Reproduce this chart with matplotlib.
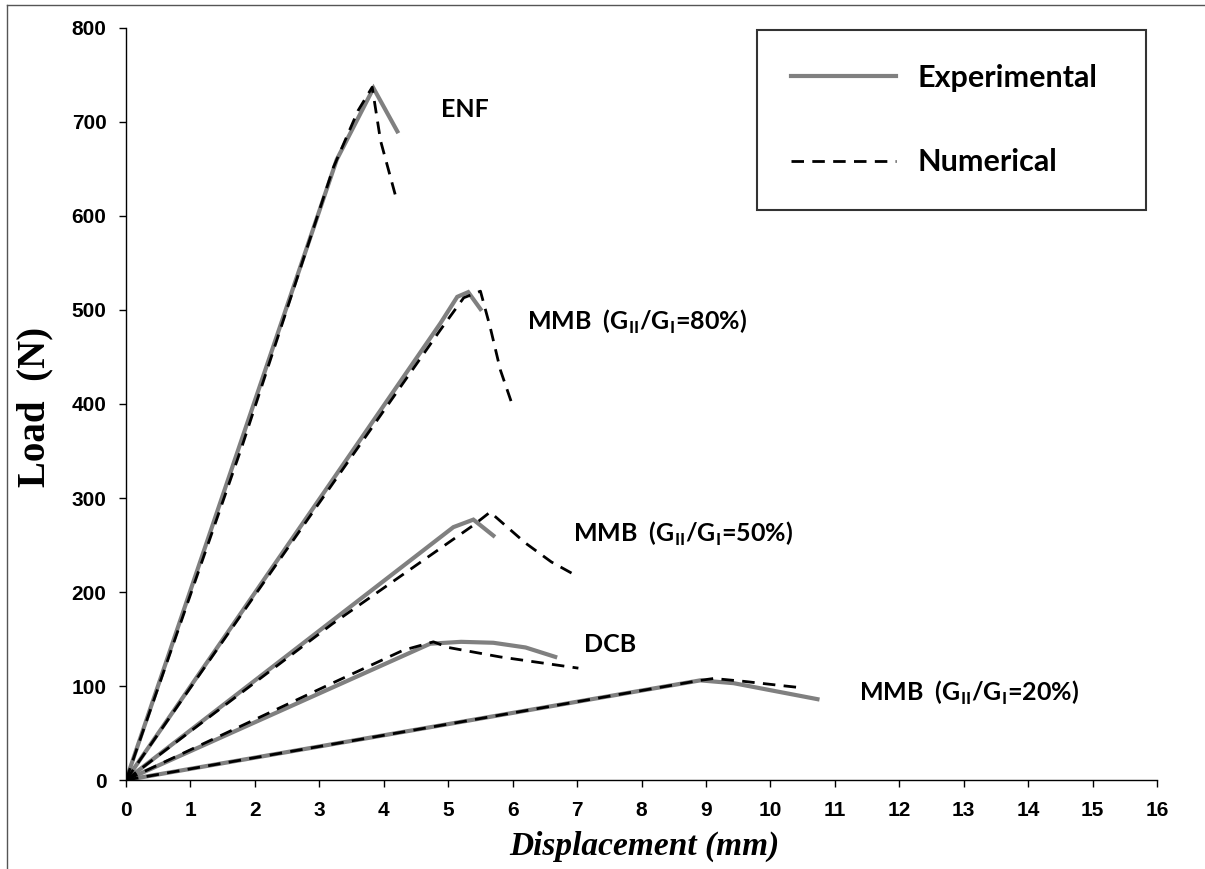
import matplotlib
matplotlib.use("Agg")
import matplotlib.pyplot as plt
from matplotlib.lines import Line2D

plt.rcParams["xtick.labelsize"] = 15
plt.rcParams["ytick.labelsize"] = 15

# ---- data (Displacement mm, Load N) ----
enf_exp_x = [0, 3.27, 3.84, 4.21]
enf_exp_y = [0, 660, 736, 690]
enf_num_x = [0, 1.8, 3.22, 3.6, 3.82, 3.95, 4.2]
enf_num_y = [0, 355, 652, 712, 737, 680, 617]

mmb80_exp_x = [0, 4.88, 5.14, 5.31, 5.5]
mmb80_exp_y = [0, 486, 514, 519, 501]
mmb80_num_x = [0, 3.0, 4.88, 5.24, 5.5, 5.65, 5.81, 5.99]
mmb80_num_y = [0, 295, 479, 513, 520, 482, 436, 400]

mmb50_exp_x = [0, 5.08, 5.39, 5.7]
mmb50_exp_y = [0, 269, 277, 260]
mmb50_num_x = [0, 3.2, 5.39, 5.65, 5.9, 6.2, 6.6, 6.97]
mmb50_num_y = [0, 166, 271, 285, 270, 252, 232, 218]

dcb_exp_x = [0, 4.72, 5.2, 5.7, 6.2, 6.66]
dcb_exp_y = [0, 145, 147, 146, 141, 131]
dcb_num_x = [0, 3.2, 4.3, 4.77, 5.0, 5.8, 7.02]
dcb_num_y = [0, 103, 138, 147, 141, 131, 119]

mmb20_exp_x = [0, 8.91, 9.43, 10.73]
mmb20_exp_y = [0, 106, 103, 86]
mmb20_num_x = [0, 8.91, 9.12, 9.58, 10.1, 10.5]
mmb20_num_y = [0, 106, 108, 105, 101, 98]

curve_labels = ["ENF", "MMB  (G$_{\\mathregular{II}}$/G$_{\\mathregular{I}}$=80%)",
                "MMB  (G$_{\\mathregular{II}}$/G$_{\\mathregular{I}}$=50%)", "DCB",
                "MMB  (G$_{\\mathregular{II}}$/G$_{\\mathregular{I}}$=20%)"]
label_x = [4.89, 6.23, 6.94, 7.11, 11.37]
label_y = [713, 487, 262, 144, 93]

xticks = list(range(0, 17))
yticks = list(range(0, 801, 100))

exp_series = [(enf_exp_x, enf_exp_y), (mmb80_exp_x, mmb80_exp_y), (mmb50_exp_x, mmb50_exp_y),
              (dcb_exp_x, dcb_exp_y), (mmb20_exp_x, mmb20_exp_y)]
num_series = [(enf_num_x, enf_num_y), (mmb80_num_x, mmb80_num_y), (mmb50_num_x, mmb50_num_y),
              (dcb_num_x, dcb_num_y), (mmb20_num_x, mmb20_num_y)]

fig = plt.figure(figsize=(12.05, 8.69), dpi=100)
ax = fig.add_axes([0.1046, 0.1024, 0.8556, 0.8654])

gray = "#808080"
dash = (0, (4.5, 3))
for i, (x, y) in enumerate(exp_series):
    ax.plot(x, y, color=gray, lw=3, solid_joinstyle="miter",
            label="Experimental" if i == 0 else None, zorder=2)
for i, (x, y) in enumerate(num_series):
    ax.plot(x, y, color="black", lw=2, linestyle=dash,
            label="Numerical" if i == 0 else None, zorder=3)

for t, x, y in zip(curve_labels, label_x, label_y):
    ax.text(x, y, t, fontsize=18, fontweight="bold", family="Lato",
            ha="left", va="center")

ax.set_xlim(0, 16)
ax.set_ylim(0, 800)
ax.tick_params(axis="both", direction="out", length=5, width=1, labelsize=15)
ax.tick_params(axis="x", pad=10)
ax.tick_params(axis="y", pad=9)
ax.set_xticks(xticks, labels=[str(v) for v in xticks], fontsize=15,
              fontweight="bold", fontfamily="Liberation Sans")
ax.set_yticks(yticks, labels=[str(v) for v in yticks], fontsize=15,
              fontweight="bold", fontfamily="Liberation Sans")
ax.spines["top"].set_visible(False)
ax.spines["right"].set_visible(False)
for s in ("left", "bottom"):
    ax.spines[s].set_linewidth(1)

ax.set_xlabel("Displacement (mm)", fontsize=24, family="Liberation Serif",
              fontweight="bold", style="italic")
ax.xaxis.set_label_coords(0.503, -0.067)
ax.xaxis.label.set_va("top")
ax.set_ylabel("Load  (N)", fontsize=28, family="Liberation Serif", fontweight="bold")
ax.yaxis.set_label_coords(-0.088, 0.496)
ax.yaxis.label.set_va("center")

leg = ax.legend(loc="upper left", bbox_to_anchor=(0.612, 0.997, 0.377, 0.0), mode="expand",
                frameon=True, fancybox=False, edgecolor="black", handlelength=3.45,
                handletextpad=0.7, labelspacing=1.85, borderpad=1.1, borderaxespad=0,
                prop={"family": "Lato", "weight": "bold", "size": 22})
leg.get_frame().set_linewidth(1.5)

# outer frame lines (left and top)
fig.add_artist(Line2D([7 / 1205, 7 / 1205], [0, 1 - 5 / 869], transform=fig.transFigure,
                      color="#555555", lw=1))
fig.add_artist(Line2D([7 / 1205, 1], [1 - 5 / 869, 1 - 5 / 869], transform=fig.transFigure,
                      color="#555555", lw=1))

fig.savefig("out.png", dpi=100, facecolor="white")
